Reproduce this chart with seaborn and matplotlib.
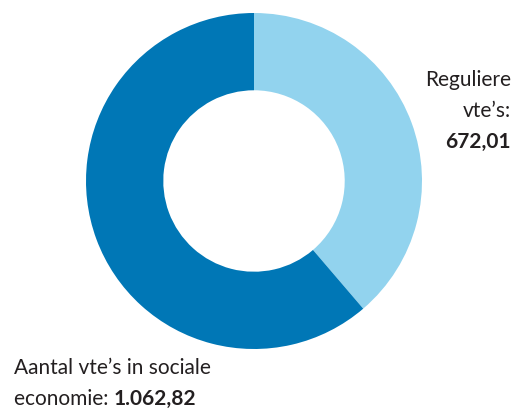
import matplotlib
matplotlib.use("Agg")
import matplotlib.pyplot as plt
import seaborn as sns

categories = ["Reguliere vte’s", "Aantal vte’s in sociale economie"]
values = [672.01, 1062.82]
value_labels = ["672,01", "1.062,82"]
colors = ["#92d3ee", "#0077b6"]

sns.set_theme(style="white")
plt.rcParams['font.family'] = ['Lato', 'DejaVu Sans']

W, H = 522, 410
fig = plt.figure(figsize=(W / 100, H / 100), dpi=100)
ax = fig.add_axes([0, 0, 1, 1])
ax.set_xlim(0, W)
ax.set_ylim(0, H)
ax.set_aspect('equal')
ax.axis('off')

R = 168
ax.pie(values, colors=colors, startangle=90, counterclock=False,
       center=(254, H - 182), radius=R, frame=True,
       wedgeprops=dict(width=R * 0.46, linewidth=0))
ax.set_xlim(0, W)
ax.set_ylim(0, H)
ax.axis('off')

tc = "#231f20"
fs = 15
ax.text(511, H - 80, "Reguliere", ha='right', va='center', fontsize=fs, color=tc)
ax.text(511, H - 111, "vte’s:", ha='right', va='center', fontsize=fs, color=tc)
ax.text(511, H - 142, value_labels[0], ha='right', va='center', fontsize=fs,
        color=tc, fontweight='bold')

ax.text(14, H - 368, "Aantal vte’s in sociale", ha='left', va='center', fontsize=fs, color=tc)
t = ax.text(14, H - 399, "economie: ", ha='left', va='center', fontsize=fs, color=tc)
fig.canvas.draw()
bb = t.get_window_extent(renderer=fig.canvas.get_renderer())
x_end = ax.transData.inverted().transform((bb.x1, bb.y0))[0]
ax.text(x_end, H - 399, value_labels[1], ha='left', va='center', fontsize=fs,
        color=tc, fontweight='bold')

fig.savefig("out.png", dpi=100)
